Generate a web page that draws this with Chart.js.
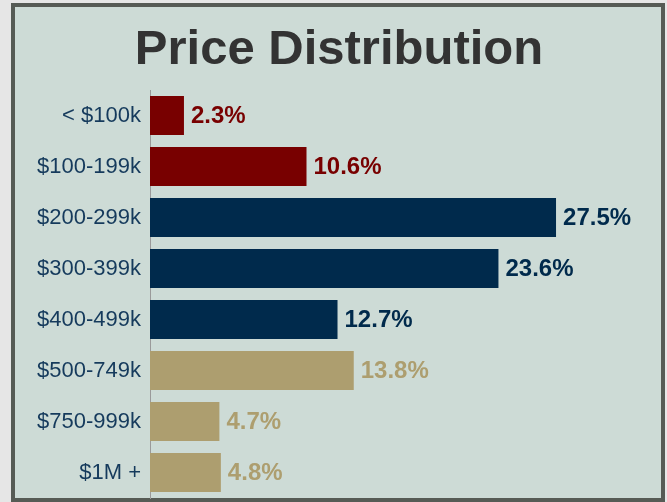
<!DOCTYPE html>
<html>
<head>
<meta charset="utf-8">
<script src="https://cdn.jsdelivr.net/npm/chart.js@4"></script>
<style>
  html, body { margin: 0; padding: 0; background: #e6e6e6; overflow: hidden; }
  #frame {
    position: absolute; left: 11px; top: 3px; width: 654px; height: 499px;
    box-sizing: border-box; border: 4px solid #565b55; background: #cddbd6;
  }
  #myChart { position: absolute; left: 0; top: 0; }
</style>
</head>
<body>
<div id="frame"></div>
<canvas id="myChart" width="667" height="502"></canvas>
<script>
const priceRanges = ["< $100k", "$100-199k", "$200-299k", "$300-399k", "$400-499k", "$500-749k", "$750-999k", "$1M +"]
const shares = [2.3, 10.6, 27.5, 23.6, 12.7, 13.8, 4.7, 4.8]
const groups = ["low", "low", "mid", "mid", "mid", "high", "high", "high"]

const groupColors = { low: "#780000", mid: "#002a4c", high: "#ad9e6f" }
const barColors = groups.map((g) => groupColors[g])

// value labels drawn right of each bar
const valueLabels = {
  id: "valueLabels",
  afterDatasetsDraw(chart) {
    const ctx = chart.ctx
    const meta = chart.getDatasetMeta(0)
    ctx.save()
    ctx.font = "bold 24px 'Liberation Sans', Arial, sans-serif"
    ctx.textAlign = "left"
    ctx.textBaseline = "middle"
    meta.data.forEach((bar, i) => {
      ctx.fillStyle = barColors[i]
      ctx.fillText(shares[i].toFixed(1) + "%", bar.x + 7, bar.y + 1)
    })
    ctx.restore()
  },
}

const ctx = document.getElementById("myChart").getContext("2d")
new Chart(ctx, {
  type: "bar",
  data: {
    labels: priceRanges,
    datasets: [
      {
        data: shares,
        backgroundColor: barColors,
        categoryPercentage: 1,
        barPercentage: 39 / 51,
      },
    ],
  },
  options: {
    indexAxis: "y",
    responsive: false,
    animation: false,
    layout: { padding: { top: 0, right: 15, bottom: 4, left: 26 } },
    plugins: {
      legend: { display: false },
      tooltip: { enabled: false },
      title: {
        display: true,
        text: "Price Distribution",
        color: "#333333",
        font: { family: "'Liberation Sans', Arial, sans-serif", size: 49, weight: "bold", lineHeight: 1.2 },
        padding: { top: 21, bottom: 10.2 },
      },
    },
    scales: {
      x: {
        display: false,
        min: 0,
        max: 34,
      },
      y: {
        grid: { display: false, drawTicks: false },
        border: { display: true, color: "#9a9a9a", width: 1 },
        ticks: {
          color: "#153a5c",
          padding: 9,
          font: { family: "'Liberation Sans', Arial, sans-serif", size: 22 },
        },
        afterFit: (scale) => {
          scale.width = 124
          scale.paddingTop = 0
          scale.paddingBottom = 0
        },
      },
    },
  },
  plugins: [valueLabels],
})
</script>
</body>
</html>
